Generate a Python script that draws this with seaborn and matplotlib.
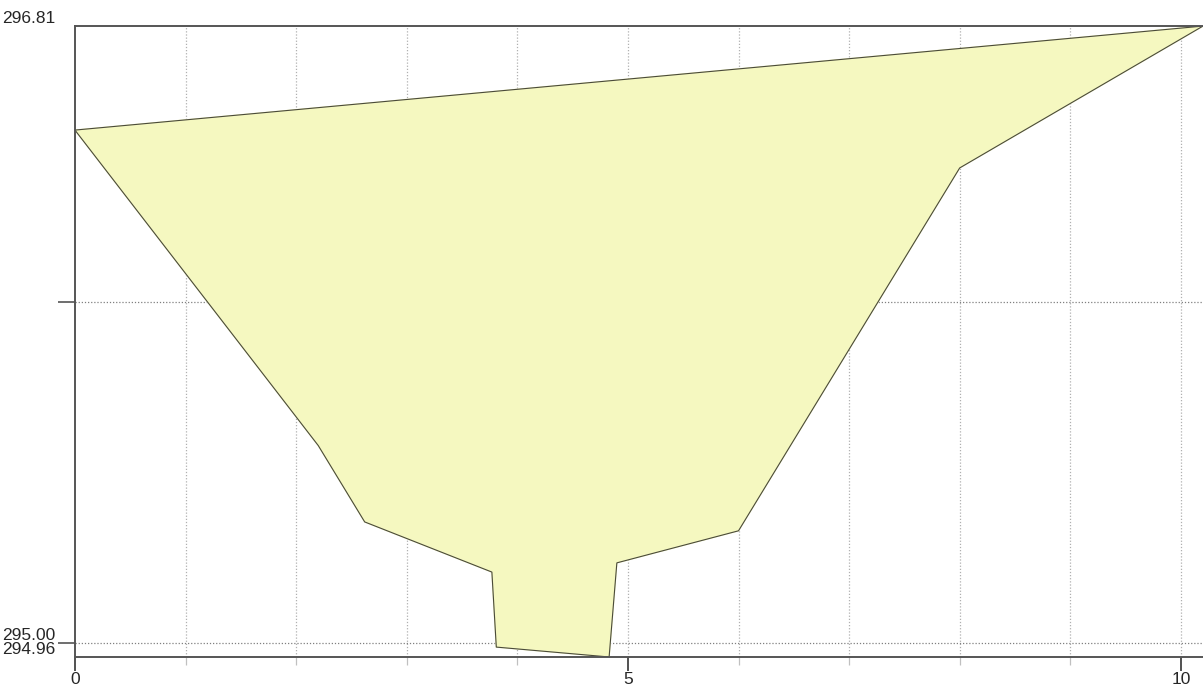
import matplotlib
matplotlib.use("Agg")
import matplotlib.pyplot as plt
import seaborn as sns
import pandas as pd

# cross-section profile (station, elevation)
station = [0.0, 2.20, 2.62, 3.77, 3.81, 4.83, 4.90, 6.00, 8.00, 10.20]
elevation = [296.505, 295.58, 295.356, 295.209, 294.989, 294.96, 295.236, 295.33, 296.394, 296.81]

y_ticks = [294.96, 295.00, 296.00, 296.81]
y_labels = ["294.96", "295.00", "", "296.81"]
x_ticks = [0, 5, 10]
x_grid = [1, 2, 3, 4, 5, 6, 7, 8, 9, 10]

sns.set_style("white")
plt.rcParams["font.family"] = ["Liberation Sans", "DejaVu Sans"]

fig = plt.figure(figsize=(12.03, 6.86), dpi=100)
ax = fig.add_axes([0.0623, 0.0423, 0.9377, 0.9197])

# closed polygon: ground line then straight back along the water surface
df = pd.DataFrame({"x": station + [station[0]], "y": elevation + [elevation[0]]})

for gx in x_grid:
    ax.axvline(gx, color="#b0b0b0", lw=0.9, ls=(0, (1, 1.5)), zorder=0)
for gy in [295.00, 296.00]:
    ax.axhline(gy, color="#808080", lw=0.9, ls=(0, (1, 1.5)), zorder=0)

ax.fill(df["x"], df["y"], color="#f5f8c0", zorder=1)
sns.lineplot(data=df, x="x", y="y", sort=False, estimator=None, color="#4a4a3a", lw=0.8, ax=ax, zorder=2)

ax.set_xlim(0, 10.2)
ax.set_ylim(294.96, 296.81)
ax.set_xticks(x_ticks)
ax.set_xticklabels([str(t) for t in x_ticks])
ax.set_xticks([g for g in x_grid if g not in x_ticks], minor=True)
ax.set_yticks(y_ticks)
ax.set_yticklabels(y_labels)
ax.set_xlabel("")
ax.set_ylabel("")

ax.tick_params(axis="x", length=10, width=1.2, color="#333333", labelsize=12.5, pad=1, direction="out", bottom=True)
ax.tick_params(axis="x", which="minor", length=6, width=0.9, color="#c0c0c0", bottom=True)
ax.tick_params(axis="y", length=12, width=1.2, color="#555555", labelsize=12.5, pad=2, direction="out", left=True)
for lab in ax.get_yticklabels():
    lab.set_verticalalignment("bottom")
# no tick marks at the two axis ends
yt = ax.yaxis.get_major_ticks()
for i in [0, 3]:
    yt[i].tick1line.set_visible(False)

for side in ["left", "bottom", "top"]:
    ax.spines[side].set_color("#555555")
    ax.spines[side].set_linewidth(1.4)
ax.spines["right"].set_visible(False)

fig.savefig("out.png", dpi=100)
